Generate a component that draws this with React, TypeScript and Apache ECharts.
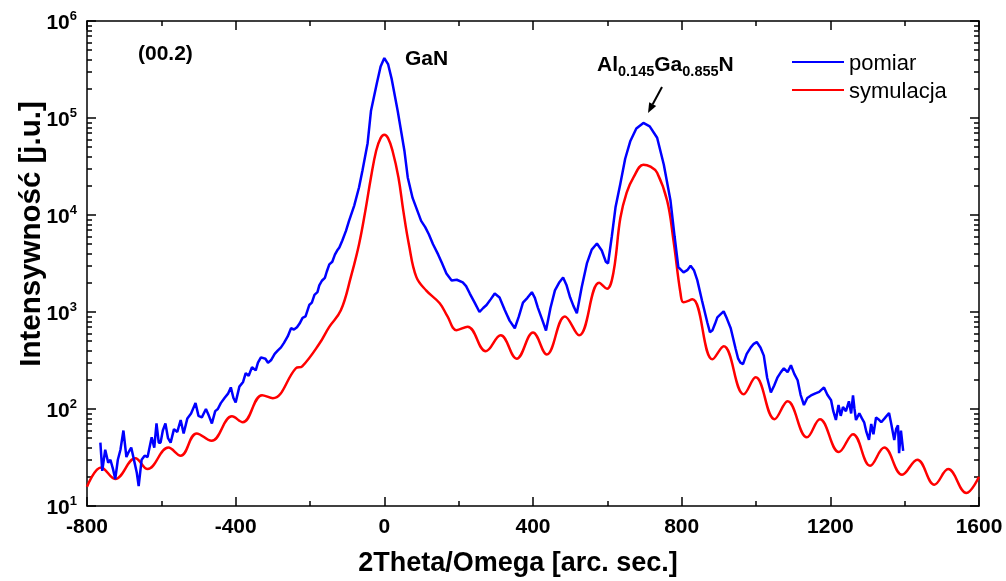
import React, { useEffect, useRef } from "react";
import * as echarts from "echarts";

const xMin = -800;
const xMax = 1600;
const xTickStep = 400;
const yMin = 10;
const yMax = 1e6;

const seriesNames = ["pomiar", "symulacja"];

// measured (pomiar)
const blueX = [
  -764, -759, -751, -743, -737, -730, -724, -717, -710, -702, -694, -688, -681, -672, -666, -661, -653, -645, -637, -626,
  -619, -613, -607, -602, -596, -589, -582, -575, -566, -557, -548, -540, -530, -520, -508, -500, -491, -480, -472, -464,
  -455, -448, -440, -430, -420, -413, -406, -400, -390, -380, -373, -365, -356, -346, -340, -332, -320, -313, -305, -295,
  -287, -278, -270, -260, -251, -243, -235, -228, -220, -212, -202, -195, -188, -180, -175, -168, -160, -155, -148, -140,
  -133, -127, -121, -113, -103, -95, -81,
  -68, -59, -45, -36, -20, -10, 0, 10, 20, 36, 46, 54, 63, 76, 99, 110, 120, 131, 145, 155,
  167, 181, 195, 211, 220, 230, 243, 256, 266, 275, 286, 297, 310, 324, 337, 351, 362, 373, 385, 397,
  405, 413, 424, 435, 447, 459, 470, 481, 490, 500, 509, 518, 531, 545, 558, 572, 585, 596, 602, 612,
  622, 635, 648, 662, 678, 697, 714, 734, 752, 770, 781, 791, 805, 815, 824, 833, 842, 855, 869, 876,
  883, 890, 896, 905, 913, 922, 932, 945, 952, 958, 965, 975, 986, 994, 1002, 1012, 1021, 1030, 1040, 1049,
  1058, 1067, 1075, 1085, 1094, 1103, 1112, 1120, 1129, 1138, 1148, 1160, 1170, 1183, 1192, 1202, 1208, 1215, 1222, 1228,
  1234, 1242, 1250, 1256, 1261, 1265, 1269, 1278, 1285, 1291, 1297, 1304, 1310, 1316, 1323, 1330, 1337, 1346, 1358, 1364,
  1372, 1377, 1382, 1385, 1390, 1396,
];
const blueY = [
  45, 23, 38, 28, 30, 24, 19, 30, 38, 60, 32, 36, 40, 28, 22, 16, 30, 33, 32, 51,
  40, 71, 45, 45, 60, 71, 50, 45, 62, 58, 77, 56, 80, 90, 115, 85, 82, 100, 85, 71,
  95, 100, 115, 130, 145, 167, 130, 117, 170, 190, 234, 220, 270, 250, 300, 341, 330, 300, 318, 370,
  400, 432, 480, 560, 680, 660, 695, 760, 870, 900, 1180, 1250, 1500, 1600, 1880, 2100, 2250, 2600, 3100, 3300,
  3900, 4300, 4620, 5460, 6900, 8700, 12500,
  19300, 28600, 55000, 118000, 230000, 340000, 415000, 360000, 250000, 118000, 70000, 46000, 24400, 15000, 8700, 7500, 6300, 5000, 3900, 3200,
  2500, 2110, 2150, 2020, 1850, 1550, 1250, 1000, 1100, 1180, 1350, 1550, 1410, 1050, 815, 680, 900, 1250, 1400, 1600,
  1400, 1110, 850, 645, 1100, 1670, 2000, 2270, 1900, 1410, 1150, 970, 1800, 3170, 4400, 5080, 4300, 3300, 3170, 6000,
  12000, 21000, 38000, 58000, 78000, 89000, 82000, 62500, 33000, 14000, 6000, 2900, 2560, 2700, 3000, 2700, 2130, 1300, 780, 620,
  650, 760, 880, 950, 1015, 850, 680, 420, 330, 300, 290, 370, 432, 470, 490, 430, 355, 210, 148, 175,
  212, 240, 263, 240, 282, 230, 198, 140, 110, 130, 138, 145, 150, 167, 140, 123, 95, 77, 110, 85,
  105, 95, 120, 90, 138, 100, 77, 90, 80, 73, 58, 48, 70, 55, 82, 78, 73, 80, 91, 70,
  48, 62, 68, 35, 60, 37,
];

// simulation (symulacja)
const redX = [
  -800, -762, -724, -670, -637, -581, -548, -505, -465, -410, -381, -329, -300, -238, -221, -175, -149, -117, -90, -68,
  -51, -36, -22, -10, 0, 10, 22, 38, 51, 66, 86, 113, 149, 170, 194, 224, 273, 313, 356, 400,
  437, 486, 524, 578, 599, 616, 635, 652, 670, 697, 716, 734, 761, 778, 797, 805, 829, 883, 913, 967,
  999, 1050, 1085, 1137, 1172, 1223, 1261, 1307, 1345, 1393, 1434, 1480, 1517, 1566, 1600,
];
const redY = [
  15.8, 25, 19, 31, 24, 40, 33, 56, 47, 84, 73, 139, 129, 263, 275, 470, 695, 1040, 2300, 5000,
  11100, 24400, 46000, 62000, 67100, 62000, 46000, 24400, 11100, 5000, 2300, 1660, 1230, 900, 650, 705, 394, 575, 330, 615,
  365, 900, 575, 2000, 1740, 2500, 9300, 17000, 24300, 33000, 31500, 27300, 14000, 5460, 1550, 1260, 1350, 325, 443, 142,
  212, 78.5, 120, 51, 78.5, 36, 55, 26, 40, 21, 30, 16.6, 24, 13.6, 20,
];

const FONT = "Arial, 'Liberation Sans', sans-serif";

export default function App() {
  const ref = useRef<HTMLDivElement>(null);

  useEffect(() => {
    if (!ref.current) return;
    const chart = echarts.init(ref.current, null, { renderer: "svg" });

    const blueData = blueX.map((x, i) => [x, blueY[i]]);
    const redData = redX.map((x, i) => [x, redY[i]]);

    const axisLineStyle = { color: "#000", width: 1.5 };
    const tickStyle = { color: "#000", width: 1.5 };

    const yAxisBase = {
      type: "log",
      logBase: 10,
      min: yMin,
      max: yMax,
      axisLine: { show: true, onZero: false, lineStyle: axisLineStyle },
      axisTick: { show: true, inside: true, length: 9, lineStyle: tickStyle },
      minorTick: { show: true, splitNumber: 9, length: 5, lineStyle: tickStyle },
      splitLine: { show: false },
      minorSplitLine: { show: false },
    };

    const option: any = {
      animation: false,
      grid: { left: 87, right: 27, top: 21, bottom: 75, outerBoundsMode: "none", containLabel: false },
      legend: {
        data: seriesNames,
        orient: "vertical",
        left: 786,
        top: 46,
        itemWidth: 52,
        itemHeight: 14,
        itemGap: 6,
        itemStyle: { opacity: 0 },
        textStyle: { fontSize: 22, color: "#000", fontFamily: FONT },
      },
      xAxis: [
        {
          type: "value",
          min: xMin,
          max: xMax,
          interval: xTickStep,
          position: "bottom",
          axisLine: { show: true, onZero: false, lineStyle: axisLineStyle },
          axisTick: { show: true, inside: true, length: 9, lineStyle: tickStyle },
          minorTick: { show: true, splitNumber: 2, length: 5, lineStyle: tickStyle },
          splitLine: { show: false },
          axisLabel: {
            fontSize: 21,
            fontWeight: "bold",
            color: "#000",
            fontFamily: FONT,
            margin: 9,
            formatter: (v: number) => String(v),
          },
        },
        {
          type: "value",
          min: xMin,
          max: xMax,
          interval: xTickStep,
          position: "top",
          axisLine: { show: true, onZero: false, lineStyle: axisLineStyle },
          axisTick: { show: true, inside: true, length: 9, lineStyle: tickStyle },
          minorTick: { show: true, splitNumber: 2, length: 5, lineStyle: tickStyle },
          splitLine: { show: false },
          axisLabel: { show: false },
        },
      ],
      yAxis: [
        {
          ...yAxisBase,
          position: "left",
          axisLabel: {
            margin: 10,
            formatter: (v: number) => `{a|10}{b|${Math.round(Math.log10(v))}}`,
            rich: {
              a: { fontSize: 21, fontWeight: "bold", color: "#000", fontFamily: FONT, lineHeight: 24, padding: [2, 0, 0, 0], verticalAlign: "top" },
              b: { fontSize: 13, fontWeight: "bold", color: "#000", fontFamily: FONT, lineHeight: 14, verticalAlign: "top" },
            },
          },
        },
        {
          ...yAxisBase,
          position: "right",
          axisLabel: { show: false },
        },
      ],
      series: [
        {
          name: seriesNames[0],
          type: "line",
          data: blueData,
          showSymbol: false,
          symbol: "none",
          color: "#0000ff",
          lineStyle: { color: "#0000ff", width: 2.5 },
          z: 3,
        },
        {
          name: seriesNames[1],
          type: "line",
          data: redData,
          showSymbol: false,
          symbol: "none",
          smooth: 0.4,
          color: "#ff0000",
          lineStyle: { color: "#ff0000", width: 2.5 },
          z: 2,
        },
      ],
      graphic: [
        {
          type: "text",
          x: 518,
          y: 562,
          style: {
            text: "2Theta/Omega [arc. sec.]",
            fontSize: 27,
            fontWeight: "bold",
            fontFamily: FONT,
            fill: "#000",
            align: "center",
            verticalAlign: "middle",
          },
        },
        {
          type: "text",
          x: 29,
          y: 234,
          rotation: Math.PI / 2,
          style: {
            text: "Intensywność [j.u.]",
            fontSize: 29.5,
            fontWeight: "bold",
            fontFamily: FONT,
            fill: "#000",
            align: "center",
            verticalAlign: "middle",
          },
        },
        {
          type: "text",
          x: 138,
          y: 52,
          style: { text: "(00.2)", fontSize: 21, fontWeight: "bold", fontFamily: FONT, fill: "#000", align: "left", verticalAlign: "middle" },
        },
        {
          type: "text",
          x: 405,
          y: 57,
          style: { text: "GaN", fontSize: 21, fontWeight: "bold", fontFamily: FONT, fill: "#000", align: "left", verticalAlign: "middle" },
        },
        {
          type: "text",
          x: 597,
          y: 53,
          style: {
            text: "{m|Al}{s|0.145}{m|Ga}{s|0.855}{m|N}",
            fill: "#000",
            align: "left",
            verticalAlign: "top",
            rich: {
              m: { fontSize: 21, fontWeight: "bold", fontFamily: FONT, fill: "#000", lineHeight: 24, verticalAlign: "top" },
              s: { fontSize: 14.5, fontWeight: "bold", fontFamily: FONT, fill: "#000", lineHeight: 16, padding: [10, 0, 0, 0], verticalAlign: "top" },
            },
          },
        },
        {
          type: "line",
          shape: { x1: 662, y1: 87, x2: 652.7, y2: 104.2 },
          style: { stroke: "#000", lineWidth: 2 },
        },
        {
          type: "polygon",
          shape: { points: [[648, 113], [656.2, 106.1], [649.2, 102.3]] },
          style: { fill: "#000" },
        },
      ],
    };

    chart.setOption(option);
    return () => chart.dispose();
  }, []);

  return <div ref={ref} style={{ position: "fixed", left: 0, top: 0, width: 1006, height: 581 }} />;
}
